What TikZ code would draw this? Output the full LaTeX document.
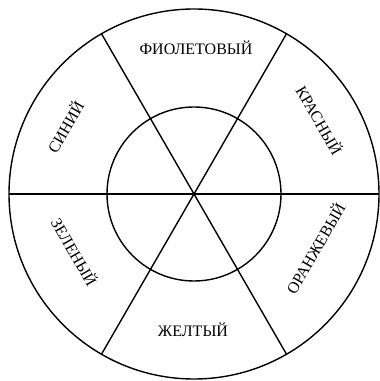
\documentclass[tikz,border=0pt]{standalone}
\usepackage{fontspec}
\setmainfont{Liberation Serif}
\usetikzlibrary{calc}
\begin{document}
\begin{tikzpicture}[x=1pt,y=1pt,
  ring/.style={line width=1.4pt, black},
  lbl/.style={font=\fontsize{16}{16}\selectfont, inner sep=0pt}]
\useasboundingbox (0,0) rectangle (380,381);
\coordinate (c) at (194,187);
% circles
\draw[ring] (c) circle (185);
\draw[ring] (c) circle (87);
% spokes
\path (c) ++(0:185) coordinate (e0) (c) ++(180:185) coordinate (e180)
      (c) ++(60:185) coordinate (e60) (c) ++(240:185) coordinate (e240)
      (c) ++(120:185) coordinate (e120) (c) ++(300:185) coordinate (e300);
\draw[ring] (e180) -- (e0);
\draw[ring] (e60) -- (e240);
\draw[ring] (e120) -- (e300);
% labels
\node[lbl] (violet) at ($(c)+(2,146)$) {ФИОЛЕТОВЫЙ};
\node[lbl, rotate=-60] (red) at ($(c)+(126,74)$) {КРАСНЫЙ};
\node[lbl, rotate=60] (blue) at ($(c)+(-129,67)$) {СИНИЙ};
\node[lbl, rotate=-60] (green) at ($(c)+(-119,-58)$) {ЗЕЛЕНЫЙ};
\node[lbl] (yellow) at ($(c)+(-1,-136)$) {ЖЕЛТЫЙ};
\node[lbl, rotate=60] (orange) at ($(c)+(121,-54)$) {ОРАНЖЕВЫЙ};
\end{tikzpicture}
\end{document}
